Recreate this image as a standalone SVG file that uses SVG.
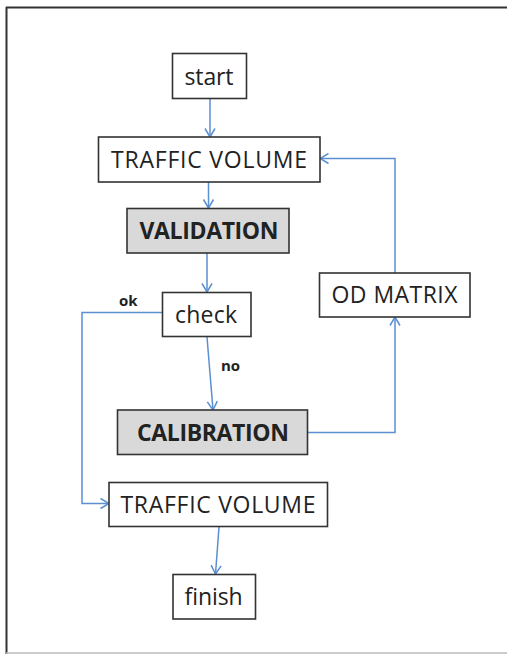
<svg xmlns="http://www.w3.org/2000/svg" width="507" height="654" viewBox="0 0 507 654">
<defs>
<marker id="arr" viewBox="0 0 10 12" refX="9.5" refY="6" markerWidth="10" markerHeight="12" markerUnits="userSpaceOnUse" orient="auto">
<path d="M1,1 L9.5,6 L1,11" fill="none" stroke="#5b8fd0" stroke-width="1.5"/>
</marker>
<style>
.box{fill:#ffffff;stroke:#333333;stroke-width:1.6}
.gray{fill:#d9d9d9;stroke:#333333;stroke-width:1.6}
.t{font-family:"Open Sans","Liberation Sans",sans-serif;font-size:23px;fill:#222222;text-anchor:middle}
.b{font-weight:bold}
.lbl{font-family:"Open Sans","Liberation Sans",sans-serif;font-size:15px;font-weight:bold;fill:#222222}
.c{fill:none;stroke:#5b8fd0;stroke-width:1.5;marker-end:url(#arr)}
</style>
</defs>
<rect width="507" height="654" fill="#ffffff"/>
<g id="frame">
<line x1="6" y1="7.5" x2="507" y2="7.5" stroke="#333333" stroke-width="2"/>
<line x1="6.5" y1="7" x2="6.5" y2="654" stroke="#333333" stroke-width="2"/>
<line x1="6" y1="653" x2="507" y2="653" stroke="#bbbbbb" stroke-width="1.5"/>
</g>
<g id="connectors">
<path class="c" d="M210,98 L210,137"/>
<path class="c" d="M208.5,182 L208.5,208"/>
<path class="c" d="M207,253 L207,292"/>
<path class="c" d="M207,337 L213,410"/>
<path class="c" d="M162,312.5 L82,312.5 L82,503.5 L109,503.5"/>
<path class="c" d="M307,432.5 L395,432.5 L395,317"/>
<path class="c" d="M395,273 L395,158.5 L320,158.5"/>
<path class="c" d="M219,527 L215.5,574"/>
<text class="lbl" x="119" y="306">ok</text>
<text class="lbl" x="221" y="371">no</text>
</g>
<g id="start"><rect class="box" x="172.5" y="53.5" width="74" height="45"/><text class="t" x="209" y="84.5" textLength="49">start</text></g>
<g id="traffic1"><rect class="box" x="98.5" y="137" width="221.5" height="45"/><text class="t" x="209" y="167.5" textLength="196">TRAFFIC VOLUME</text></g>
<g id="validation"><rect class="gray" x="127" y="208.5" width="162" height="44.5"/><text class="t b" x="209" y="239" textLength="139">VALIDATION</text></g>
<g id="check"><rect class="box" x="162.5" y="292.5" width="88.5" height="44"/><text class="t" x="206" y="322.5" textLength="62">check</text></g>
<g id="odmatrix"><rect class="box" x="319.5" y="273" width="150.5" height="44"/><text class="t" x="394.5" y="303" textLength="126">OD MATRIX</text></g>
<g id="calibration"><rect class="gray" x="117.5" y="410" width="190" height="44.5"/><text class="t b" x="213" y="440.5" textLength="152">CALIBRATION</text></g>
<g id="traffic2"><rect class="box" x="109" y="482.5" width="218.5" height="44"/><text class="t" x="218" y="512.5" textLength="195">TRAFFIC VOLUME</text></g>
<g id="finish"><rect class="box" x="173" y="574.5" width="82.5" height="44.5"/><text class="t" x="213.5" y="604.5" textLength="58">finish</text></g>
</svg>
